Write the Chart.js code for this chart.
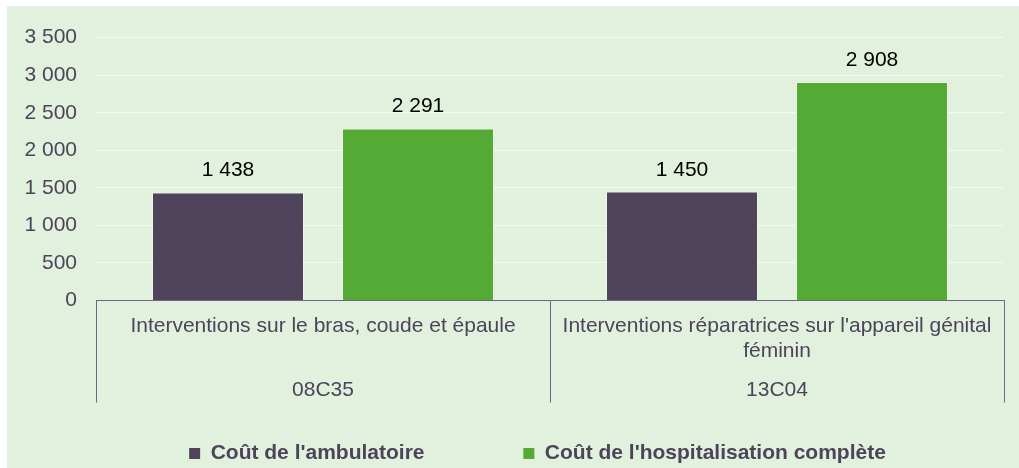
<!DOCTYPE html>
<html>
<head>
<meta charset="utf-8">
<script src="https://cdn.jsdelivr.net/npm/chart.js@4/dist/chart.umd.min.js"></script>
<style>
	body { margin: 0; background: #fff; overflow: hidden; }
	#frame { position: absolute; left: 7px; top: 6px; width: 1012px; height: 462px; background: #E2F1DD; overflow: hidden; }
	canvas { display: block; }
</style>
</head>
<body>
<div id="frame"><canvas id="chart" width="1012" height="468"></canvas></div>
<script>
'use strict';

// groupes (libellé sur une ou deux lignes) et codes GHM
const categories = [
	['Interventions sur le bras, coude et épaule'],
	["Interventions réparatrices sur l'appareil génital", 'féminin']
];
const codes = ['08C35', '13C04'];

const seriesNames = ["Coût de l'ambulatoire", "Coût de l'hospitalisation complète"];
const ambulatoire = [1438, 1450];
const hospitalisation = [2291, 2908];

const yTicks = { min: 0, max: 3500, step: 500 };

const FONT = 'Liberation Sans, Arial, sans-serif';
const TEXT = '#4D4459';

const fmt = v => String(v).replace(/\B(?=(\d{3})+(?!\d))/g, ' ');

const valueLabels = {
	id: 'valueLabels',
	afterDatasetsDraw(chart) {
		const ctx = chart.ctx;
		ctx.save();
		ctx.font = '21px ' + FONT;
		ctx.fillStyle = '#000';
		ctx.textAlign = 'center';
		ctx.textBaseline = 'alphabetic';
		chart.data.datasets.forEach((ds, i) => {
			chart.getDatasetMeta(i).data.forEach((bar, j) => {
				ctx.fillText(fmt(ds.data[j]), bar.x, bar.y - 16);
			});
		});
		ctx.restore();
	}
};

// traits verticaux séparant les groupes sous l'axe
const groupLines = {
	id: 'groupLines',
	afterLayout(chart) {
		// les graduations de l'axe y débordent de sa boîte étroite : on élargit la zone de rognage
		chart.scales.y.left = 0;
	},
	afterDraw(chart) {
		const x = chart.scales.x;
		const x2 = chart.scales.x2;
		const ctx = chart.ctx;
		const edges = [x.left];
		for (let i = 0; i < categories.length - 1; i++) {
			edges.push((x.getPixelForValue(i) + x.getPixelForValue(i + 1)) / 2);
		}
		edges.push(x.right);
		ctx.save();
		ctx.strokeStyle = '#6E6680';
		ctx.lineWidth = 1;
		ctx.beginPath();
		edges.forEach(px => {
			const xx = Math.round(px) + 0.5;
			ctx.moveTo(xx, x.top);
			ctx.lineTo(xx, x2.bottom);
		});
		ctx.stroke();
		ctx.restore();
	}
};

new Chart(document.getElementById('chart'), {
	type: 'bar',
	data: {
		labels: categories,
		datasets: [
			{
				label: seriesNames[0],
				data: ambulatoire,
				backgroundColor: '#4F445C',
				borderColor: 'rgba(255,255,255,0.35)',
				borderWidth: 1,
				categoryPercentage: 0.837,
				barPercentage: 0.8
			},
			{
				label: seriesNames[1],
				data: hospitalisation,
				backgroundColor: '#55AA35',
				borderColor: 'rgba(255,255,255,0.35)',
				borderWidth: 1,
				categoryPercentage: 0.837,
				barPercentage: 0.8
			}
		]
	},
	options: {
		responsive: false,
		animation: false,
		layout: { padding: { left: 64, right: 15, top: 29, bottom: 0 } },
		scales: {
			x: {
				type: 'category',
				offset: true,
				grid: { display: false, drawTicks: false },
				border: { display: true, color: '#6E6680', width: 1 },
				ticks: {
					color: TEXT,
					font: { family: FONT, size: 21, lineHeight: 1.15 },
					padding: 14,
					autoSkip: false,
					maxRotation: 0
				},
				afterFit: s => { s.height = 64; }
			},
			x2: {
				type: 'category',
				position: 'bottom',
				labels: codes,
				offset: true,
				grid: { display: false, drawTicks: false },
				border: { display: false },
				ticks: {
					color: TEXT,
					font: { family: FONT, size: 21, lineHeight: 1.15 },
					padding: 14,
					autoSkip: false,
					maxRotation: 0
				},
				afterFit: s => { s.height = 38; }
			},
			y: {
				min: yTicks.min,
				max: yTicks.max,
				grid: { color: '#F3F9F1', lineWidth: 1, drawTicks: false },
				border: { display: false },
				ticks: {
					stepSize: yTicks.step,
					color: TEXT,
					font: { family: FONT, size: 21 },
					padding: 19,
					callback: v => fmt(v)
				},
				afterFit: s => { s.width = 25; }
			}
		},
		plugins: {
			legend: {
				position: 'bottom',
				labels: {
					color: TEXT,
					font: { family: FONT, size: 21, weight: 'bold' },
					boxWidth: 11,
					boxHeight: 11,
					padding: 40.5,
					generateLabels: chart => {
						const items = Chart.defaults.plugins.legend.labels.generateLabels(chart);
						items.forEach(it => { it.lineWidth = 0; it.strokeStyle = it.fillStyle; });
						items[0].text += ' '.repeat(10);
						return items;
					}
				}
			},
			tooltip: { enabled: false }
		}
	},
	plugins: [valueLabels, groupLines]
});
</script>
</body>
</html>
